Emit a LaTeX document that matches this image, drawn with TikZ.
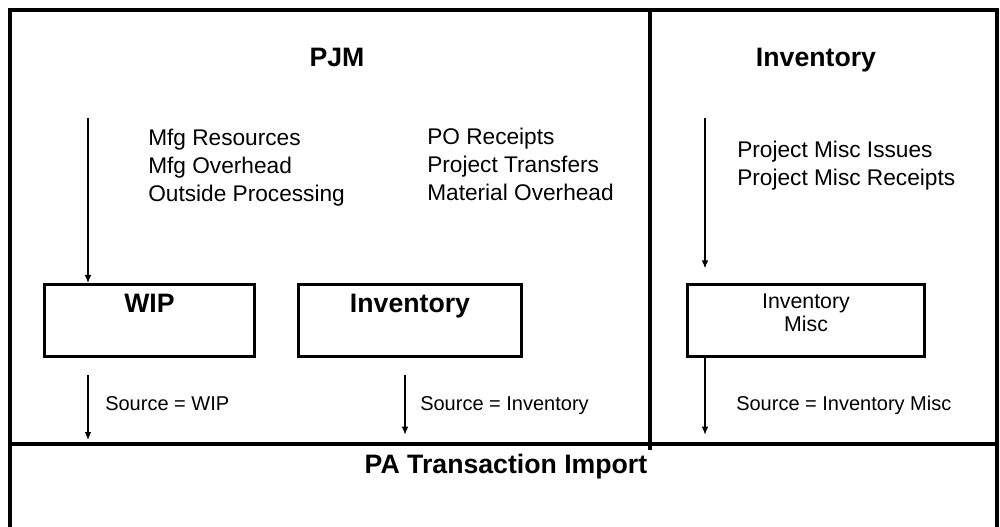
\documentclass[tikz,border=0pt]{standalone}
\usepackage{fontspec}
\setmainfont{Liberation Sans}
\usetikzlibrary{arrows.meta}
\usetikzlibrary{positioning}

\begin{document}
\begin{tikzpicture}[
        x=0.75pt, y=-0.75pt, >={Latex[length=6pt,width=5pt]},
        every node/.style={font=\fontsize{17}{21}\selectfont},
        frame/.style={line width=2.3pt},
        item/.style={rectangle,draw=black,line width=2.3pt,minimum height=54pt},
        title/.style={font=\fontsize{20}{24}\selectfont\bfseries,anchor=base},
        boxlabel/.style={anchor=north,inner sep=0pt,yshift=-7.9pt},
        list/.style={align=left,anchor=north west,inner sep=0pt},
        source/.style={font=\fontsize{15}{18}\selectfont,anchor=base west,inner sep=0pt},
        flow/.style={->,line width=0.8pt}
      ]
      \useasboundingbox (0,0) rectangle (1000,527);

      % frame and dividers
      \coordinate (tl) at (10,10);
      \coordinate (tr) at (997,10);
      \coordinate (mid) at (650,10);
      \coordinate (sep) at (10,444);
      \draw[frame] (10,530) -- (tl) -- (tr) -- (997,530);
      \draw[frame] (sep) -- (sep -| tr);
      \draw[frame] (mid) -- (650,450);

      % headings
      \node(pjm)[title] at (337,67) {PJM};
      \node(inv)[title] at (816,67) {Inventory};
      \node(import)[title] at (506,473) {PA Transaction Import};

      % transaction lists
      \node(mfg)[list] at (148,129) {Mfg Resources\\Mfg Overhead\\Outside Processing};
      \node(po)[list] at (427,128) {PO Receipts\\Project Transfers\\Material Overhead};
      \node(misctx)[list] at (737,141) {Project Misc Issues\\Project Misc Receipts};

      % boxes
      \node(wip)[item,minimum width=157.5pt,
                 label={[title,boxlabel]north:WIP}] at (149.5,320.5) {};
      \node(stock)[item,minimum width=167pt,
                   label={[title,boxlabel]north:Inventory}] at (410,320.5) {};
      \node(misc)[item,minimum width=178pt,
                  label={[boxlabel,align=center,font=\fontsize{16}{17}\selectfont]north:Inventory\\Misc}] at (806,320.5) {};

      % arrows
      \coordinate (wipin) at (88,118);
      \coordinate (miscin) at (705,118);
      \coordinate (wipout) at (88,375);
      \coordinate (stockout) at (405,375);
      \draw[flow] (wipin) -- (wipin |- wip.north);
      \draw[flow, shorten >=11pt] (miscin) -- (miscin |- misc.north);
      \draw[flow, shorten >=3pt] (wipout) -- (wipout |- sep);
      \draw[flow, shorten >=7pt] (stockout) -- (stockout |- sep);
      \draw[flow, shorten >=7pt] (miscin |- misc.south) -- (miscin |- sep);

      % source labels
      \node(wipsrc)[source] at (105,411) {Source = WIP};
      \node(stocksrc)[source] at (420,411) {Source = Inventory};
      \node(miscsrc)[source] at (736,411) {Source = Inventory Misc};
    \end{tikzpicture}
\end{document}
